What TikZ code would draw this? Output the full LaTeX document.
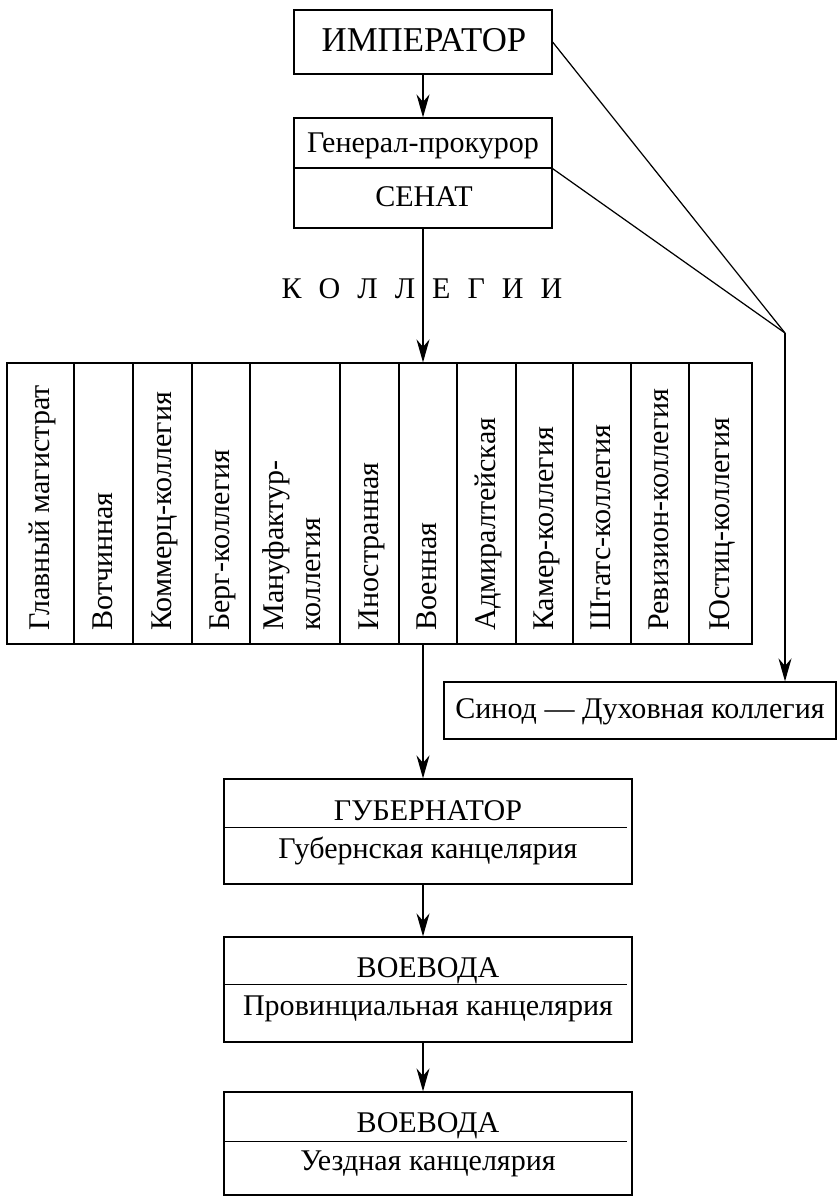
\documentclass[tikz,border=0pt]{standalone}
\usepackage{fontspec}
\setmainfont{Liberation Serif}
\usepackage{tikz}
\usetikzlibrary{arrows.meta}

\begin{document}
\begin{tikzpicture}[
  x=0.02cm, y=-0.02cm,
  >={Stealth[length=4.6mm,width=2.6mm]},
  box/.style={draw,line width=0.7pt,inner sep=0pt},
  txt/.style={font=\fontsize{17.1}{20.5}\selectfont,inner sep=0pt,anchor=base},
  big/.style={font=\fontsize{19.8}{23}\selectfont,inner sep=0pt,anchor=base},
  coltxt/.style={font=\fontsize{17.1}{20.5}\selectfont,inner sep=0pt,rotate=90,
                 anchor=base west,align=left},
  e/.style={->,line width=0.7pt},
  ln/.style={line width=0.7pt},
]
\useasboundingbox (0,0) rectangle (837,1196);

% emperor, procurator-general and senate
\node[box,minimum width=5.16cm,minimum height=1.28cm] (imp) at (423,42) {};
\node[big] (impt) at (424,52) {ИМПЕРАТОР};
\node[box,minimum width=5.16cm,minimum height=1.0cm] (prok) at (423,143) {};
\node[txt] (prokt) at (423,153) {Генерал-прокурор};
\node[box,minimum width=5.16cm,minimum height=1.2cm] (senat) at (423,198) {};
\node[txt] (senatt) at (424,207) {СЕНАТ};

\node[txt] (koll) at (422,298)
  {К\hspace{0.34cm}О\hspace{0.34cm}Л\hspace{0.34cm}Л\hspace{0.34cm}Е\hspace{0.34cm}Г\hspace{0.34cm}И\hspace{0.34cm}И};

% the twelve colleges, one column each
\foreach \xl/\xr/\dx/\lbl [count=\i] in {
    7/74/8.5/Главный магистрат,
    74/133/8.5/Вотчинная,
    133/192/8.5/Коммерц-коллегия,
    192/250/8.5/Берг-коллегия,
    250/340/25/Мануфактур-\\коллегия,
    340/399/8.5/Иностранная,
    399/457/8.5/Военная,
    457/516/8.5/Адмиралтейская,
    516/573/8.5/Камер-коллегия,
    573/631/8.5/Штатс-коллегия,
    631/689/8.5/Ревизион-коллегия,
    689/752/8.5/Юстиц-коллегия}{
  \node[box,minimum width={(\xr-\xl)*0.02cm},minimum height=5.62cm]
    (col\i) at ({(\xl+\xr)/2},503.5) {};
  \node[coltxt] (colt\i) at ({(\xl+\xr)/2+\dx},631) {\lbl};
}

% synod, off to the right
\coordinate (j) at (785,333);
\node[box,minimum width=7.84cm,minimum height=1.14cm] (sinod) at (640,710.5) {};
\node[txt] (sinodt) at (640,718) {Синод — Духовная коллегия};

% local government
\node[box,minimum width=8.16cm,minimum height=2.1cm] (gub) at (428,831.5) {};
\node[txt] (gubt) at (428,820) {ГУБЕРНАТОР};
\node[txt] (gubs) at (428,858) {Губернская канцелярия};
\node[box,minimum width=8.16cm,minimum height=2.1cm] (voev1) at (428,989.5) {};
\node[txt] (voev1t) at (428,977) {ВОЕВОДА};
\node[txt] (voev1s) at (428,1015) {Провинциальная канцелярия};
\node[box,minimum width=8.16cm,minimum height=2.06cm] (voev2) at (428,1143.5) {};
\node[txt] (voev2t) at (428,1132) {ВОЕВОДА};
\node[txt] (voev2s) at (428,1170) {Уездная канцелярия};

\draw[ln] (gub.north west) ++(0,49) -- ++(404,0);
\draw[ln] (voev1.north west) ++(0,48) -- ++(404,0);
\draw[ln] (voev2.north west) ++(0,50) -- ++(404,0);

% connectors
\draw[e] (imp) -- (prok);
\draw[e] (senat) -- (senat.south |- col7.north);
\draw[e] (col7.south -| imp.south) -- (gub.north -| imp.south);
\draw[e] (gub.south -| imp.south) -- (voev1.north -| imp.south);
\draw[e] (voev1.south -| imp.south) -- (voev2.north -| imp.south);
\draw[ln] (imp.east) -- (j);
\draw[ln] (prok.south east) -- (j);
\draw[e] (j) -- (j |- sinod.north);
\end{tikzpicture}
\end{document}
